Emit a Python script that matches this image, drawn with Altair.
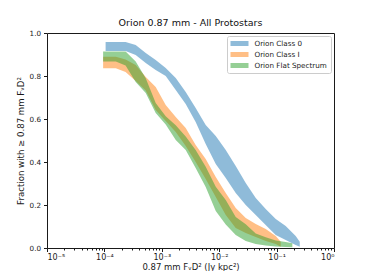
import altair as alt
import pandas as pd

series_names = ["Orion Class 0", "Orion Class I", "Orion Flat Spectrum"]
series_colors = ["#1f77b4", "#ff7f0e", "#2ca02c"]

# Orion Class 0 band (flux in Jy kpc^2, upper / lower fraction)
class0_flux = [1.05e-4, 1.58e-4, 2.34e-4, 3.51e-4, 5.25e-4, 7.83e-4, 1.17e-3, 1.75e-3,
               2.61e-3, 3.89e-3, 5.82e-3, 8.71e-3, 1.30e-2, 1.94e-2, 2.90e-2, 4.33e-2,
               6.46e-2, 9.66e-2, 0.144, 0.215, 0.253]
class0_hi = [0.958, 0.958, 0.958, 0.944, 0.907, 0.874, 0.837, 0.791, 0.726, 0.651, 0.572,
             0.521, 0.456, 0.381, 0.302, 0.233, 0.181, 0.135, 0.102, 0.056, 0.029]
class0_lo = [0.916, 0.916, 0.916, 0.898, 0.860, 0.828, 0.800, 0.735, 0.670, 0.586, 0.484,
             0.391, 0.326, 0.256, 0.200, 0.153, 0.107, 0.060, 0.037, 0.014, 0.006]

# Orion Class I band
class1_flux = [9.5e-5, 1.58e-4, 2.34e-4, 3.51e-4, 5.25e-4, 7.83e-4, 1.17e-3, 1.75e-3,
               2.61e-3, 3.89e-3, 5.82e-3, 8.71e-3, 1.30e-2, 1.94e-2, 2.90e-2, 4.33e-2,
               6.46e-2, 9.66e-2, 0.118]
class1_hi = [0.890, 0.890, 0.877, 0.851, 0.795, 0.749, 0.665, 0.609, 0.558, 0.479, 0.414,
             0.330, 0.256, 0.186, 0.140, 0.112, 0.088, 0.056, 0.029]
class1_lo = [0.836, 0.836, 0.819, 0.777, 0.733, 0.642, 0.591, 0.540, 0.474, 0.400, 0.321,
             0.237, 0.153, 0.093, 0.070, 0.051, 0.033, 0.019, 0.006]

# Orion Flat Spectrum band
flat_flux = [9.5e-5, 1.58e-4, 2.34e-4, 3.51e-4, 5.25e-4, 7.83e-4, 1.17e-3, 1.75e-3,
             2.61e-3, 3.89e-3, 5.82e-3, 8.71e-3, 1.30e-2, 1.94e-2, 2.90e-2, 4.33e-2,
             6.46e-2, 9.66e-2, 0.144, 0.188]
flat_hi = [0.914, 0.914, 0.914, 0.867, 0.789, 0.674, 0.613, 0.571, 0.519, 0.456, 0.378,
           0.285, 0.223, 0.144, 0.110, 0.067, 0.050, 0.035, 0.028, 0.022]
flat_lo = [0.867, 0.867, 0.849, 0.772, 0.721, 0.628, 0.574, 0.502, 0.456, 0.372, 0.284,
           0.172, 0.109, 0.060, 0.033, 0.019, 0.012, 0.007, 0.005, 0.003]

x_major = [1e-5, 1e-4, 1e-3, 1e-2, 1e-1, 1e0]
x_major_labels = ["10\u207b\u2075", "10\u207b\u2074", "10\u207b\u00b3", "10\u207b\u00b2",
                  "10\u207b\u00b9", "10\u2070"]
x_minor = [m * d for d in [1e-5, 1e-4, 1e-3, 1e-2, 1e-1] for m in range(2, 10)]
y_ticks = [0.0, 0.2, 0.4, 0.6, 0.8, 1.0]

frames = []
for name, fx, hi, lo in [(series_names[0], class0_flux, class0_hi, class0_lo),
                         (series_names[1], class1_flux, class1_hi, class1_lo),
                         (series_names[2], flat_flux, flat_hi, flat_lo)]:
    frames.append(pd.DataFrame({"series": name, "flux": fx, "hi": hi, "lo": lo}))
df = pd.concat(frames, ignore_index=True)

label_expr = " : ".join(
    f"abs(datum.value - {v}) < {v}*0.01 ? '{l}'" for v, l in zip(x_major, x_major_labels)
) + " : ''"

FONT = "DejaVu Sans"
INK = "#1a1a1a"
xscale = alt.Scale(type="log", domain=[1e-5, 1.0], nice=False)
yscale = alt.Scale(domain=[0, 1], nice=False, zero=False)
cscale = alt.Scale(domain=series_names, range=series_colors)

legend = alt.Legend(
    title=None, orient="none", legendX=180, legendY=3,
    symbolType="M-1,-0.625L3.5,-0.625L3.5,0.625L-1,0.625Z", symbolSize=64,
    symbolOpacity=0.5, symbolStrokeWidth=0,
    labelFont=FONT, labelFontSize=7.2, labelColor=INK,
    padding=3.5, rowPadding=3, labelOffset=16,
    strokeColor="#cccccc", fillColor="white", cornerRadius=2,
)

x_axis_major = alt.Axis(values=x_major, labelExpr=label_expr, tickSize=3.5,
                        labelFont=FONT, labelFontSize=8.0, labelColor=INK,
                        labelPadding=2, grid=False, domain=False, tickColor=INK,
                        title="0.87 mm F\u1d65D\u00b2 (Jy kpc\u00b2)", titleFont=FONT,
                        titleFontSize=8.5, titleFontWeight="normal", titleColor=INK,
                        titlePadding=1, orient="bottom")
y_axis = alt.Axis(values=y_ticks, format=".1f", tickSize=3.5, labelFont=FONT,
                  labelFontSize=7.2, labelColor=INK, labelPadding=3,
                  grid=False, domain=False, tickColor=INK,
                  title="Fraction with \u2265 0.87 mm F\u1d65D\u00b2",
                  titleFont=FONT, titleFontSize=8.6, titleFontWeight="normal",
                  titleColor=INK, titlePadding=4)

layers = []
for i, name in enumerate(series_names):
    layer = alt.Chart(df).transform_filter(alt.datum.series == name).mark_area(
        opacity=0.5, interpolate="linear"
    ).encode(
        x=alt.X("flux:Q", scale=xscale, axis=x_axis_major if i == 0 else None),
        y=alt.Y("hi:Q", scale=yscale, axis=y_axis, stack=None),
        y2="lo:Q",
        color=alt.Color("series:N", scale=cscale, legend=legend),
    )
    layers.append(layer)

minor_layer = alt.Chart(df).mark_point(opacity=0).encode(
    x=alt.X("flux:Q", scale=xscale,
            axis=alt.Axis(values=x_minor, labels=False, tickSize=2, grid=False,
                          domain=False, tickColor=INK, title=None, orient="bottom")),
    y=alt.Y("hi:Q", scale=yscale, axis=y_axis),
)

chart = alt.layer(*layers, minor_layer).resolve_axis(x="independent").properties(
    width=287, height=215,
    title=alt.TitleParams("Orion 0.87 mm - All Protostars", font=FONT, fontSize=9.5,
                          fontWeight="normal", color="#111111", anchor="middle", offset=2),
    autosize=alt.AutoSizeParams(type="none"),
    padding={"left": 39, "top": 25, "right": 30, "bottom": 23},
).configure_view(stroke=INK, strokeWidth=1)

chart.save("out.html", embed_options={"renderer": "svg", "actions": False})
